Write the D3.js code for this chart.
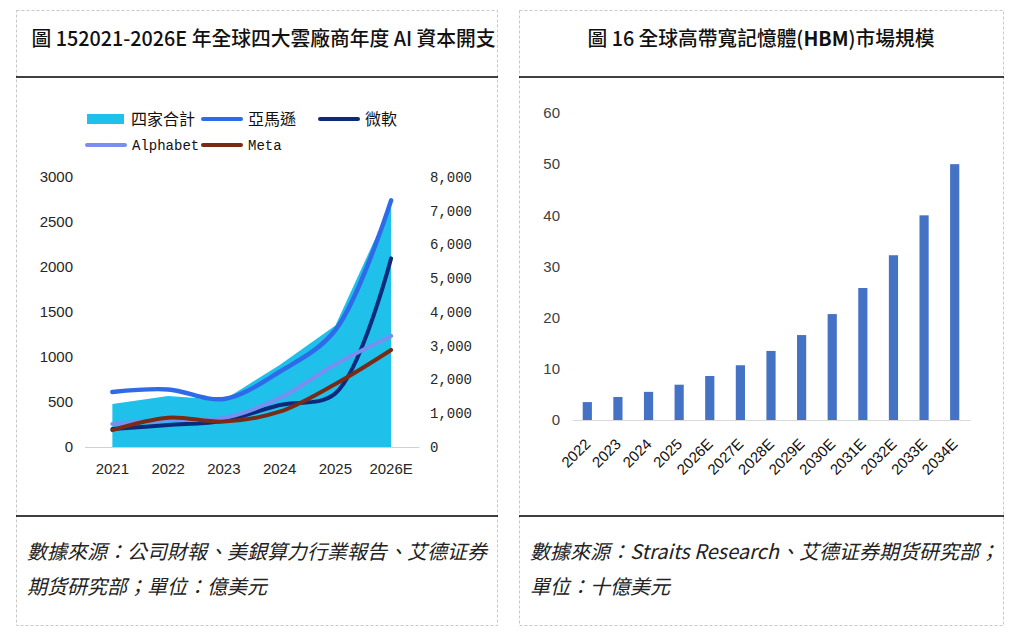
<!DOCTYPE html>
<html>
<head>
<meta charset="utf-8">
<script src="https://cdn.jsdelivr.net/npm/d3@7"></script>
<style>
  body { margin: 0; background: #fff; }
  .tick text { fill: #262626; }
</style>
</head>
<body>
<div id="chart"></div>
<script>
// left chart: capex of the four cloud vendors (億美元)
const years = ['2021', '2022', '2023', '2024', '2025', '2026E'];
const totalCapex = [1274, 1511, 1390, 2430, 3600, 7200];   // right axis
const amazon = [612, 640, 534, 836, 1300, 2740];            // left axis
const microsoft = [200, 244, 292, 466, 596, 2096];
const alphabet = [256, 300, 322, 544, 920, 1234];
const meta = [188, 326, 282, 392, 700, 1078];
const leftTicks = [0, 500, 1000, 1500, 2000, 2500, 3000];
const rightTicks = [0, 1000, 2000, 3000, 4000, 5000, 6000, 7000, 8000];

// right chart: HBM market size (十億美元)
const hbmYears = ['2022', '2023', '2024', '2025', '2026E', '2027E', '2028E',
    '2029E', '2030E', '2031E', '2032E', '2033E', '2034E'];
const hbmSize = [3.5, 4.5, 5.5, 6.9, 8.6, 10.7, 13.5, 16.6, 20.7, 25.8, 32.2, 40.0, 50.0];
const hbmTicks = [0, 10, 20, 30, 40, 50, 60];

const cjk = '"Noto Sans CJK TC", "Noto Sans CJK SC", sans-serif';
const sans = '"Liberation Sans", Arial, sans-serif';
const mono = '"Liberation Mono", "DejaVu Sans Mono", monospace';

const svg = d3.select('#chart')
    .append('svg')
    .attr('width', 1023)
    .attr('height', 636);

// panel frames
const panels = [
    { x0: 16, x1: 497, title: '圖 152021-2026E 年全球四大雲廠商年度 AI 資本開支', titleW: 464,
      foot: ['數據來源：公司財報、美銀算力行業報告、艾德证券', '期货研究部；單位：億美元'] },
    { x0: 519, x1: 1003, title: null, titleW: 347,
      foot: ['數據來源：Straits Research、艾德证券期货研究部；', '單位：十億美元'] }
];

panels.forEach((p, i) => {
    svg.append('rect')
        .attr('x', p.x0 + 0.5).attr('y', 10.5)
        .attr('width', p.x1 - p.x0).attr('height', 615)
        .attr('fill', 'none')
        .attr('stroke', '#c8c8c8')
        .attr('stroke-dasharray', '3,2');

    [77, 516].forEach(y => {
        svg.append('line')
            .attr('x1', p.x0).attr('x2', p.x1 + 1)
            .attr('y1', y).attr('y2', y)
            .attr('stroke', '#000')
            .attr('stroke-width', 1.5);
    });

    const t = svg.append('text')
        .attr('x', (p.x0 + p.x1) / 2 + (i === 0 ? 7 : 0))
        .attr('y', 46)
        .attr('text-anchor', 'middle')
        .style('font-family', cjk)
        .style('font-size', '20px')
        .style('font-weight', 500)
        .attr('fill', '#111');
    if (p.title) {
        t.text(p.title);
    } else {
        t.append('tspan').text('圖 16 全球高帶寬記憶體(');
        t.append('tspan').style('font-weight', 700).text('HBM');
        t.append('tspan').text(')市場規模');
    }
    t.attr('textLength', p.titleW).attr('lengthAdjust', 'spacingAndGlyphs');

    p.foot.forEach((line, j) => {
        svg.append('text')
            .attr('x', p.x0 + 11)
            .attr('y', 559 + j * 35)
            .style('font-family', cjk)
            .style('font-size', '20px')
            .style('font-style', 'italic')
            .attr('fill', '#222')
            .text(line);
    });
});

// ---------- left chart ----------
const left = svg.append('g');

const x = d3.scaleBand()
    .domain(years)
    .range([84.5, 419]);
const cx = d => x(d) + x.bandwidth() / 2;

const yL = d3.scaleLinear().domain([0, 3000]).range([447, 177]);
const yR = d3.scaleLinear().domain([0, 8000]).range([447, 177]);

left.append('path')
    .datum(years)
    .attr('fill', '#1fc1ea')
    .attr('d', d3.area()
        .x(d => cx(d))
        .y0(yR(0))
        .y1((d, i) => yR(totalCapex[i])));

const series = [
    { name: '亞馬遜', values: amazon, color: '#2f6be8', w: 4.5 },
    { name: '微軟', values: microsoft, color: '#0c2a7c', w: 4 },
    { name: 'Alphabet', values: alphabet, color: '#7a8df0', w: 4 },
    { name: 'Meta', values: meta, color: '#7a2b16', w: 4 }
];

const line = d3.line().curve(d3.curveCatmullRom.alpha(0.5));

series.forEach(s => {
    left.append('path')
        .datum(years.map((d, i) => [cx(d), yL(s.values[i])]))
        .attr('fill', 'none')
        .attr('stroke', s.color)
        .attr('stroke-width', s.w)
        .attr('stroke-linecap', 'round')
        .attr('d', line);
});

const xAxis = left.append('g')
    .attr('transform', 'translate(0,447)')
    .call(d3.axisBottom(x).tickSize(0).tickSizeOuter(0).tickPadding(16));
xAxis.select('.domain').attr('stroke', '#d0d0d0');
xAxis.selectAll('text').style('font-family', sans).style('font-size', '15px');

const yAxisL = left.append('g')
    .attr('transform', 'translate(86,0)')
    .call(d3.axisLeft(yL).tickValues(leftTicks).tickFormat(d3.format('d')).tickSize(0).tickPadding(13));
yAxisL.select('.domain').remove();
yAxisL.selectAll('text').style('font-family', sans).style('font-size', '15px');

const yAxisR = left.append('g')
    .attr('transform', 'translate(418,0)')
    .call(d3.axisRight(yR).tickValues(rightTicks).tickFormat(d3.format(',')).tickSize(0).tickPadding(12));
yAxisR.select('.domain').remove();
yAxisR.selectAll('text').style('font-family', mono).style('font-size', '14px');

// legend
const legend = left.append('g')
    .style('font-family', cjk)
    .style('font-size', '16px')
    .attr('fill', '#111');
legend.append('rect')
    .attr('x', 87).attr('y', 114).attr('width', 37).attr('height', 10)
    .attr('fill', '#1fc1ea');
legend.append('text').attr('x', 131).attr('y', 119).attr('dy', '0.35em').text('四家合計');

const legendPos = [[203, 119], [320, 119], [87, 145], [203, 145]];
series.forEach((s, i) => {
    const [lx, ly] = legendPos[i];
    legend.append('line')
        .attr('x1', lx).attr('x2', lx + 38)
        .attr('y1', ly).attr('y2', ly)
        .attr('stroke', s.color)
        .attr('stroke-width', 4)
        .attr('stroke-linecap', 'round');
    const lt = legend.append('text')
        .attr('x', lx + 45).attr('y', ly).attr('dy', '0.35em')
        .text(s.name);
    if (/^[A-Za-z]/.test(s.name)) lt.style('font-family', mono).style('font-size', '14px');
});

// ---------- right chart ----------
const right = svg.append('g');

const xb = d3.scaleBand()
    .domain(hbmYears)
    .range([572, 970])
    .paddingInner(0.7)
    .paddingOuter(0.35);
const yb = d3.scaleLinear().domain([0, 60]).range([420, 113]);

right.selectAll('.bar')
    .data(hbmSize)
    .enter().append('rect')
    .attr('class', 'bar')
    .attr('x', (d, i) => xb(hbmYears[i]))
    .attr('width', xb.bandwidth())
    .attr('y', d => yb(d))
    .attr('height', d => yb(0) - yb(d))
    .attr('fill', '#4472c4');

const xbAxis = right.append('g')
    .attr('transform', 'translate(0,420)')
    .call(d3.axisBottom(xb).tickSize(0).tickSizeOuter(0));
xbAxis.select('.domain').attr('stroke', '#d9d9d9');
xbAxis.selectAll('text')
    .style('font-family', sans)
    .style('font-size', '15px')
    .style('fill', '#111')
    .style('text-anchor', 'end')
    .attr('x', 0).attr('y', 0).attr('dy', 0)
    .attr('transform', 'translate(4,25) rotate(-45)');

const ybAxis = right.append('g')
    .attr('transform', 'translate(572,0)')
    .call(d3.axisLeft(yb).tickValues(hbmTicks).tickSize(0).tickPadding(12));
ybAxis.select('.domain').remove();
ybAxis.selectAll('text').style('font-family', sans).style('font-size', '15px').style('fill', '#404040');
</script>
</body>
</html>
